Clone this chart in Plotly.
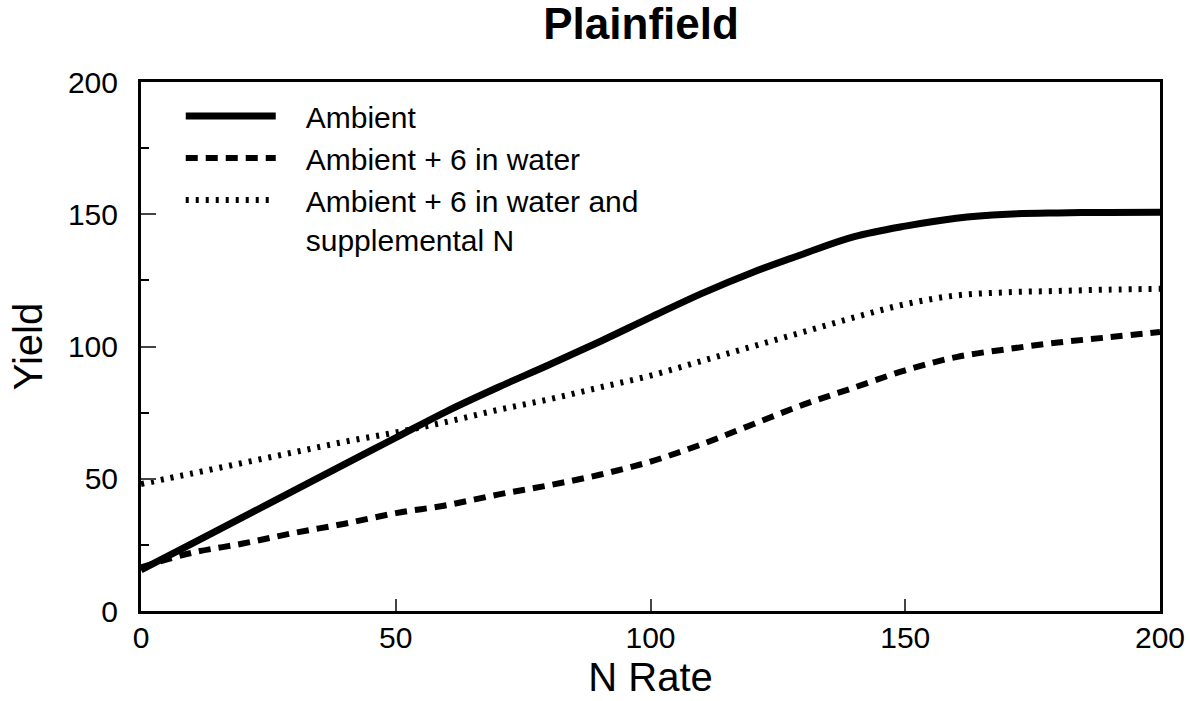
import plotly.graph_objects as go

n_rate = [0, 10, 20, 30, 40, 50, 60, 70, 80, 90, 100, 110, 120, 130, 140, 150, 160, 170, 180, 190, 200]
ambient = [15.5, 25.5, 35.5, 45.5, 55.5, 65.5, 75.5, 84.5, 93, 101.8, 111, 120, 128, 135, 141.5, 145.5, 148.5, 150, 150.5, 150.7, 150.8]
ambient_water = [16.5, 22, 25.5, 29.5, 33, 37, 40, 44, 47.5, 51.5, 56.5, 63, 70.5, 78, 84.5, 91, 96, 99, 101.5, 103.5, 105.5]
ambient_water_n = [48, 52, 56, 60, 64, 67.5, 71.5, 76, 80, 84.5, 89, 94.5, 100, 105.5, 111, 116, 119.3, 120.5, 121, 121.5, 121.8]

pad = "\u00a0\u00a0\u00a0"
series_names = ["Ambient", "Ambient + 6 in water", "Ambient + 6 in water and<br>" + pad + "supplemental N"]

fig = go.Figure()
fig.add_trace(go.Scatter(x=n_rate, y=ambient, mode="lines", name=pad + series_names[0],
                         line=dict(color="black", width=7, shape="spline")))
fig.add_trace(go.Scatter(x=n_rate, y=ambient_water, mode="lines", name=pad + series_names[1],
                         line=dict(color="black", width=6, dash="12px,8px", shape="spline")))
fig.add_trace(go.Scatter(x=n_rate, y=ambient_water_n, mode="lines", name=pad + series_names[2],
                         line=dict(color="black", width=6, dash="3px,7px", shape="spline")))

font_family = "Liberation Sans, Arial, Helvetica, sans-serif"
fig.update_layout(
    width=1190, height=701,
    margin=dict(l=141, r=30, t=82, b=90),
    paper_bgcolor="white", plot_bgcolor="white",
    font=dict(family=font_family, color="black", size=28),
    title=dict(text="<b>Plainfield</b>", x=0.5387, xanchor="center", y=0.966, yref="container",
               yanchor="middle", font=dict(size=44, family=font_family)),
    showlegend=True,
    legend=dict(x=0.039, y=0.985, xanchor="left", yanchor="top", bgcolor="rgba(0,0,0,0)",
                font=dict(size=30), itemwidth=90, tracegroupgap=0, valign="top"),
    xaxis=dict(range=[0, 200], tickvals=[0, 50, 100, 150, 200], ticks="inside", ticklen=12,
               tickwidth=2, showline=True, linewidth=3, linecolor="black", mirror=True,
               showgrid=False, zeroline=False, tickfont=dict(size=30), ticklabelstandoff=-2,
               automargin=False,
               title=dict(text="N Rate", font=dict(size=40), standoff=10)),
    yaxis=dict(range=[0, 200], tickvals=[0, 50, 100, 150, 200], ticks="inside", ticklen=15,
               tickwidth=2, showline=True, linewidth=3, linecolor="black", mirror=True,
               showgrid=False, zeroline=False, tickfont=dict(size=30), ticklabelstandoff=14,
               automargin=False,
               minor=dict(dtick=25, ticks="inside", ticklen=8, tickwidth=2, tickcolor="black"),
               title=dict(text="Yield", font=dict(size=40), standoff=13)),
)

fig.write_html(
    "out.html",
    config={"displayModeBar": False, "responsive": False},
    post_script="document.body.style.margin='0';document.body.style.overflow='hidden';",
)
